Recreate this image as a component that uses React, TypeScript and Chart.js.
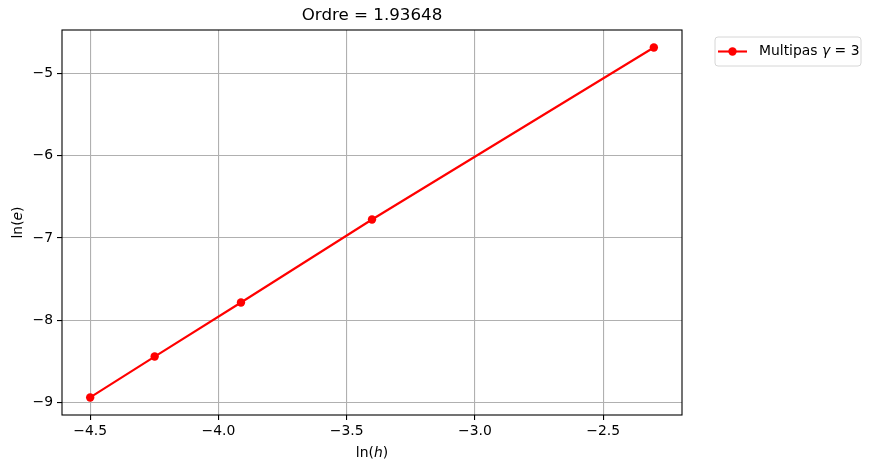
import React, { useEffect, useRef } from "react";
import { Chart, registerables } from "chart.js";

Chart.register(...registerables);

const lnH = [-4.4998, -4.2485, -3.912, -3.4012, -2.3026];
const lnE = [-8.939, -8.441, -7.784, -6.775, -4.684];
const xTicks = [-4.5, -4.0, -3.5, -3.0, -2.5];
const yTicks = [-9, -8, -7, -6, -5];
const titleText = "Ordre = 1.93648";
const legendLabel = "Multipas ";

const FONT = "DejaVu Sans";
const minus = (s: string) => s.replace("-", "\u2212");

function drawRich(ctx: CanvasRenderingContext2D, parts: [string, boolean][], x: number, y: number, size: number, align: "left" | "center") {
  let total = 0;
  const widths = parts.map(([t, it]) => {
    ctx.font = `${it ? "oblique " : ""}${size}px '${FONT}'`;
    const w = ctx.measureText(t).width;
    total += w;
    return w;
  });
  let cx = align === "center" ? x - total / 2 : x;
  parts.forEach(([t, it], i) => {
    ctx.font = `${it ? "oblique " : ""}${size}px '${FONT}'`;
    ctx.textAlign = "left";
    ctx.fillText(t, cx, y);
    cx += widths[i];
  });
}

const decor = {
  id: "decor",
  afterDraw(chart: any) {
    const ctx = chart.ctx as CanvasRenderingContext2D;
    const a = chart.chartArea;
    ctx.save();
    // frame
    ctx.strokeStyle = "#000";
    ctx.lineWidth = 1.1;
    ctx.strokeRect(a.left, a.top, a.right - a.left, a.bottom - a.top);
    ctx.fillStyle = "#000";
    ctx.textBaseline = "middle";
    // title
    ctx.font = `16.7px '${FONT}'`;
    ctx.textAlign = "center";
    ctx.fillText(titleText, (a.left + a.right) / 2, 16);
    // x label
    drawRich(ctx, [["ln(", false], ["h", true], [")", false]], (a.left + a.right) / 2, 453, 13.9, "center");
    // y label
    ctx.save();
    ctx.translate(18, (a.top + a.bottom) / 2);
    ctx.rotate(-Math.PI / 2);
    drawRich(ctx, [["ln(", false], ["e", true], [")", false]], 0, 0, 13.9, "center");
    ctx.restore();
    // legend
    const lx = 715, ly = 37, lw = 146, lh = 29;
    ctx.beginPath();
    const r = 3;
    ctx.moveTo(lx + r, ly);
    ctx.arcTo(lx + lw, ly, lx + lw, ly + lh, r);
    ctx.arcTo(lx + lw, ly + lh, lx, ly + lh, r);
    ctx.arcTo(lx, ly + lh, lx, ly, r);
    ctx.arcTo(lx, ly, lx + lw, ly, r);
    ctx.closePath();
    ctx.fillStyle = "rgba(255,255,255,0.8)";
    ctx.fill();
    ctx.strokeStyle = "#d6d6d6";
    ctx.lineWidth = 1;
    ctx.stroke();
    const my = ly + lh / 2;
    ctx.strokeStyle = "#ff0000";
    ctx.lineWidth = 2.1;
    ctx.beginPath();
    ctx.moveTo(718, my);
    ctx.lineTo(747, my);
    ctx.stroke();
    ctx.fillStyle = "#ff0000";
    ctx.beginPath();
    ctx.arc(732.5, my, 4.2, 0, Math.PI * 2);
    ctx.fill();
    ctx.fillStyle = "#000";
    drawRich(ctx, [[legendLabel, false], ["\u03b3", true], [" = 3", false]], 759, my, 13.9, "left");
    ctx.restore();
  },
};

export default function App() {
  const ref = useRef<HTMLCanvasElement>(null);
  useEffect(() => {
    const chart = new Chart(ref.current!, {
      type: "scatter",
      data: {
        datasets: [
          {
            label: "Multipas",
            data: lnH.map((x, i) => ({ x, y: lnE[i] })),
            showLine: true,
            borderColor: "#ff0000",
            backgroundColor: "#ff0000",
            borderWidth: 2.1,
            pointRadius: 4.2,
            pointHoverRadius: 4.2,
            pointBorderWidth: 0,
          },
        ],
      },
      options: {
        animation: false,
        responsive: false,
        devicePixelRatio: 1,
        layout: { padding: { left: 0, top: 30, right: 189, bottom: 0 } },
        plugins: { legend: { display: false }, title: { display: false }, tooltip: { enabled: false } },
        scales: {
          x: {
            type: "linear",
            min: -4.6097,
            max: -2.1928,
            afterBuildTicks: (s: any) => {
              s.ticks = xTicks.map((v) => ({ value: v }));
            },
            afterFit: (s: any) => {
              s.height = 55;
              s.paddingLeft = 0;
              s.paddingRight = 0;
            },
            grid: { color: "#b0b0b0", lineWidth: 1.1, tickColor: "#000", tickLength: 5, tickWidth: 1.1, drawOnChartArea: true },
            border: { display: false },
            ticks: {
              color: "#000",
              font: { family: FONT, size: 13.9 },
              padding: 3,
              maxRotation: 0,
              autoSkip: false,
              callback: (v: any) => minus(Number(v).toFixed(1)),
            },
          },
          y: {
            type: "linear",
            min: -9.152,
            max: -4.471,
            afterBuildTicks: (s: any) => {
              s.ticks = yTicks.map((v) => ({ value: v }));
            },
            afterFit: (s: any) => {
              s.width = 62;
              s.paddingTop = 0;
              s.paddingBottom = 0;
            },
            grid: { color: "#b0b0b0", lineWidth: 1.1, tickColor: "#000", tickLength: 5, tickWidth: 1.1 },
            border: { display: false },
            ticks: {
              color: "#000",
              font: { family: FONT, size: 13.9 },
              padding: 4,
              autoSkip: false,
              callback: (v: any) => minus(String(Math.round(Number(v)))),
            },
          },
        },
      },
      plugins: [decor],
    });
    return () => chart.destroy();
  }, []);
  return (
    <div style={{ position: "absolute", left: 0, top: 0, width: 871, height: 470, background: "#fff" }}>
      <canvas ref={ref} width={871} height={470} style={{ width: 871, height: 470 }} />
    </div>
  );
}
